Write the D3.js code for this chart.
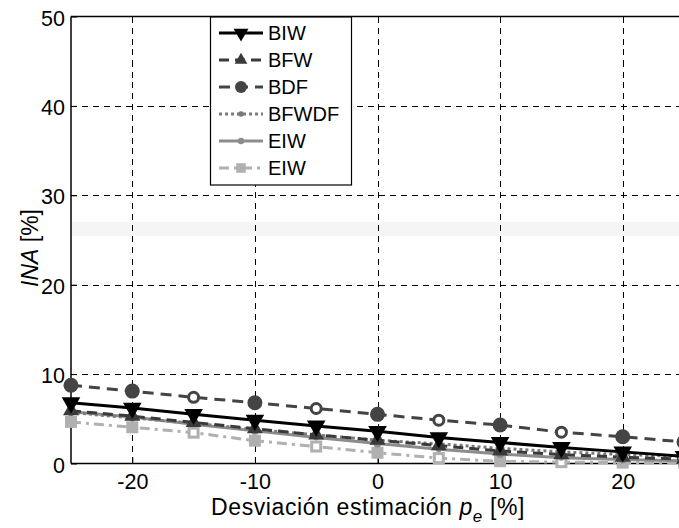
<!DOCTYPE html>
<html><head><meta charset="utf-8">
<script src="https://cdn.jsdelivr.net/npm/d3@7"></script>
<style>body{margin:0;background:#fff}svg{display:block;font-family:"Liberation Sans",Arial,sans-serif}</style>
</head><body><svg id="c" width="679" height="528"></svg>
<script>
const xValues = [-25,-20,-15,-10,-5,0,5,10,15,20,25];
const BIW   = [6.8,6.2,5.5,4.85,4.2,3.6,2.9,2.35,1.8,1.3,0.8];
const BFW   = [5.9,5.3,4.6,3.9,3.2,2.6,2.0,1.4,1.0,0.7,0.5];
const BDF   = [8.75,8.1,7.4,6.8,6.15,5.5,4.85,4.3,3.5,3.0,2.4];
const BFWDF = [5.7,5.1,4.5,3.8,3.2,2.6,2.2,1.7,1.3,1.0,0.8];
const EIW   = [5.8,5.2,4.4,3.65,2.9,2.25,1.6,1.05,0.65,0.45,0.3];
const EIW2  = [4.65,4.05,3.45,2.55,1.9,1.2,0.6,0.25,0.15,0.1,0.1];
const seriesNames = ["BIW","BFW","BDF","BFWDF","EIW","EIW"];
const xTicks = [-20,-10,0,10,20];
const yTicks = [0,10,20,30,40,50];

const svg = d3.select("#c");
const x = d3.scaleLinear().domain([-25,25]).range([71,684]);
const y = d3.scaleLinear().domain([0,50]).range([463.5,16.5]);

// faint background band (watermark remnant)
svg.append("rect").attr("x",72).attr("y",222).attr("width",607).attr("height",14).attr("fill","#f5f5f5");

// grid
const grid = svg.append("g").attr("stroke","#000").attr("stroke-width",1).attr("stroke-dasharray","6,5").attr("shape-rendering","crispEdges");
xTicks.forEach(t=>grid.append("line").attr("x1",Math.round(x(t))+0.5).attr("x2",Math.round(x(t))+0.5).attr("y1",y(50)).attr("y2",y(0)));
yTicks.filter(t=>t>0&&t<50).forEach(t=>grid.append("line").attr("x1",x(-25)).attr("x2",x(25)).attr("y1",Math.round(y(t))+0.5).attr("y2",Math.round(y(t))+0.5));

// axes
const fmt = d => String(d);
const xAxis = d3.axisBottom(x).tickValues(xTicks).tickSize(-6).tickPadding(10).tickFormat(fmt);
const gx = svg.append("g").attr("transform",`translate(0,${y(0)})`).call(xAxis);
gx.select(".domain").remove();
gx.selectAll("text").attr("font-size",21.5).attr("fill","#000").attr("font-family","Liberation Sans, Arial, sans-serif");
const yAxis = d3.axisLeft(y).tickValues(yTicks).tickSize(-6).tickPadding(6).tickFormat(fmt);
const gy = svg.append("g").attr("transform",`translate(${x(-25)},0)`).call(yAxis);
gy.select(".domain").remove();
gy.selectAll("text").attr("font-size",21.5).attr("fill","#000").attr("font-family","Liberation Sans, Arial, sans-serif").attr("dy","0.4em");
const frame = svg.append("g").attr("stroke","#000").attr("stroke-width",1.5).attr("fill","none");
frame.append("line").attr("x1",x(-25)).attr("x2",x(25)).attr("y1",y(0)).attr("y2",y(0));
frame.append("line").attr("x1",x(-25)).attr("x2",x(25)).attr("y1",y(50)).attr("y2",y(50));
frame.append("line").attr("x1",x(-25)).attr("x2",x(-25)).attr("y1",y(0)).attr("y2",y(50));

// series config
const cfg = [
 {vals:BIW,  color:"#000",    dash:null,        w:3,   marker:"triDown"},
 {vals:BFW,  color:"#3a3a3a", dash:"10,6",      w:3,   marker:"triUp"},
 {vals:BDF,  color:"#444",    dash:"11,7",      w:3,   marker:"circle"},
 {vals:BFWDF,color:"#7a7a7a", dash:"3,3",       w:3,   marker:"dot"},
 {vals:EIW,  color:"#8c8c8c", dash:null,        w:3,   marker:"plus"},
 {vals:EIW2, color:"#b0b0b0", dash:"10,5,3,5",  w:3,   marker:"square"}
];
const line = d3.line().x(d=>x(d[0])).y(d=>y(d[1]));
const plot = svg.append("g");
function drawMarker(g,type,cx,cy,color,big,scale){
  const k = scale||1;
  if(type==="triDown"){
    g.append("path").attr("d",d3.symbol(d3.symbolTriangle,150*k*k)()).attr("transform",`translate(${cx},${cy}) rotate(180)`).attr("fill",color);
  } else if(type==="triUp"){
    g.append("path").attr("d",d3.symbol(d3.symbolTriangle,110*k*k)()).attr("transform",`translate(${cx},${cy})`).attr("fill",color);
  } else if(type==="circle"){
    if(big) g.append("circle").attr("cx",cx).attr("cy",cy).attr("r",7.5*k).attr("fill",color);
    else g.append("circle").attr("cx",cx).attr("cy",cy).attr("r",5).attr("fill","#fff").attr("stroke",color).attr("stroke-width",3);
  } else if(type==="dot"){
    g.append("circle").attr("cx",cx).attr("cy",cy).attr("r",(big?3.5:2.5)*k).attr("fill",color);
  } else if(type==="plus"){
    g.append("circle").attr("cx",cx).attr("cy",cy).attr("r",(big?4:3)*k).attr("fill",color);
  } else if(type==="square"){
    if(big) g.append("rect").attr("x",cx-6*k).attr("y",cy-6*k).attr("width",12*k).attr("height",12*k).attr("fill",color);
    else { g.append("rect").attr("x",cx-4.5).attr("y",cy-4.5).attr("width",9).attr("height",9).attr("fill","#fff").attr("stroke",color).attr("stroke-width",3); }
  }
}
cfg.slice().reverse().forEach(s=>{
  const pts = xValues.map((v,i)=>[v,s.vals[i]]);
  plot.append("path").datum(pts).attr("d",line).attr("fill","none").attr("stroke",s.color).attr("stroke-width",s.w).attr("stroke-dasharray",s.dash);
});
cfg.slice().reverse().forEach(s=>{
  xValues.forEach((v,i)=>{ const big = (v%10===0)||Math.abs(v)===25; drawMarker(plot,s.marker,x(v),y(s.vals[i]),s.color,big); });
});

// legend
const lg = svg.append("g");
lg.append("rect").attr("x",210.5).attr("y",17).attr("width",141).attr("height",168).attr("fill","#fff").attr("stroke","#000").attr("stroke-width",1.2);
cfg.forEach((s,i)=>{
  const ly = 33 + i*27;
  lg.append("line").attr("x1",219).attr("x2",263).attr("y1",ly).attr("y2",ly).attr("stroke",s.color).attr("stroke-width",s.w).attr("stroke-dasharray",s.dash);
  drawMarker(lg,s.marker,241,ly,s.color,true,0.8);
  lg.append("text").attr("x",268).attr("y",ly+7).attr("font-size",20).attr("fill","#000").text(seriesNames[i]);
});

// axis titles
const xl = svg.append("text").attr("x",368).attr("y",515).attr("text-anchor","middle").attr("font-size",23).attr("letter-spacing",0.6).attr("fill","#000");
xl.append("tspan").text("Desviación estimación ");
xl.append("tspan").attr("font-style","italic").text("p");
xl.append("tspan").attr("font-style","italic").attr("font-size",17).attr("dy",7).text("e");
xl.append("tspan").attr("dy",-7).text(" [%]");
const yl = svg.append("text").attr("transform","translate(38,248) rotate(-90)").attr("text-anchor","middle").attr("font-size",23).attr("fill","#000");
yl.append("tspan").attr("font-style","italic").text("INA");
yl.append("tspan").text(" [%]");
</script></body></html>
